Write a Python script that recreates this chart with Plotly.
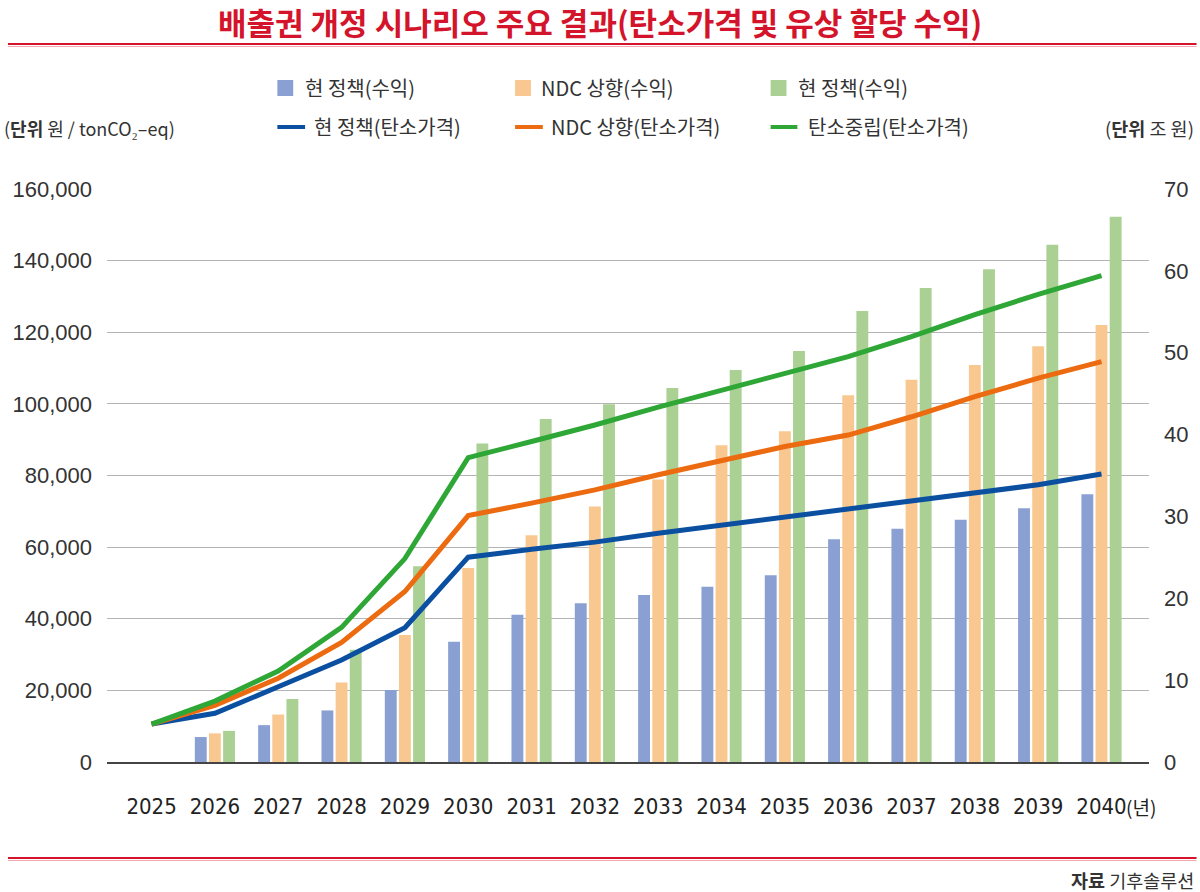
import plotly.graph_objects as go

# ---------------- data ----------------
years = list(range(2025, 2041))

# carbon price (원/tonCO2-eq), left axis
price_current = [10600, 13600, 21000, 28500, 37500, 57200, 59400, 61400, 63900, 66200,
                 68500, 70600, 72900, 75200, 77400, 80400]
price_ndc = [10600, 15800, 23400, 33400, 47600, 68800, 72300, 76000, 80200, 84100,
             88100, 91300, 96400, 102000, 107200, 111800]
price_neutral = [10600, 17000, 25400, 37600, 56800, 85000, 89500, 94100, 99100, 103900,
                 108600, 113200, 118800, 124900, 130600, 135800]

# auction revenue (조 원), right axis
rev_current = [None, 3.05, 4.5, 6.3, 8.8, 14.7, 18.0, 19.4, 20.4, 21.4,
               22.8, 27.2, 28.5, 29.6, 31.0, 32.7]
rev_ndc = [None, 3.5, 5.8, 9.7, 15.5, 23.7, 27.7, 31.2, 34.5, 38.7,
           40.4, 44.8, 46.7, 48.5, 50.8, 53.4]
rev_neutral = [None, 3.8, 7.7, 13.7, 23.9, 38.9, 41.9, 43.7, 45.7, 47.9,
               50.2, 55.1, 57.9, 60.2, 63.2, 66.6]

left_ticks = list(range(0, 160001, 20000))
right_ticks = list(range(0, 71, 10))

bar_names = ["현 정책(수익)", "NDC 상향(수익)", "현 정책(수익)"]
line_names = ["현 정책(탄소가격)", "NDC 상향(탄소가격)", "탄소중립(탄소가격)"]

title_text = "배출권 개정 시나리오 주요 결과(탄소가격 및 유상 할당 수익)"

# ---------------- style ----------------
BAR_COLORS = ["#8aa0d2", "#f9c891", "#aad193"]
LINE_COLORS = ["#0b4fa0", "#ec6a10", "#2ea736"]
RED = "#d3142b"
KFONT = "Noto Sans CJK KR"

W, H = 1200, 892
ML, MR, MT, MB = 100, 48, 189, 130
PW = W - ML - MR
PH = H - MT - MB


def px_x(px):
    return (px - ML) / PW


def px_y(py):
    return (H - MB - py) / PH


fig = go.Figure()

# bars: primary y axis (drawn on the right side, 조 원)
for name, vals, color in zip(bar_names, [rev_current, rev_ndc, rev_neutral], BAR_COLORS):
    fig.add_trace(go.Bar(x=years, y=vals, name=name, yaxis="y",
                         marker=dict(color=color, line=dict(width=0)),
                         showlegend=False))

# lines: overlaying axis (left side, 원/tonCO2-eq) so they sit above the bars
for name, vals, color in zip(line_names, [price_current, price_ndc, price_neutral], LINE_COLORS):
    fig.add_trace(go.Scatter(x=years, y=vals, name=name, yaxis="y2", mode="lines",
                             line=dict(color=color, width=5), showlegend=False))

num_font = dict(family="Liberation Sans, Arial, sans-serif", size=22, color="#333333")

fig.update_layout(
    width=W, height=H,
    margin=dict(l=ML, r=MR, t=MT, b=MB, pad=0),
    paper_bgcolor="white", plot_bgcolor="white",
    barmode="group", bargap=0.33, bargroupgap=0.16,
    showlegend=False,
    font=dict(family=KFONT, color="#333333"),
    xaxis=dict(range=[2024.296, 2040.75], tickvals=years,
               ticktext=[str(y) for y in years],
               showgrid=False, zeroline=False, showline=True,
               linecolor="#444444", linewidth=1.5, ticks="",
               tickfont=dict(family="DejaVu Sans Condensed, Liberation Sans, sans-serif",
                             size=22, color="#222222"),
               ticklabelstandoff=24),
    yaxis=dict(range=[0, 70], tickvals=right_ticks, side="right",
               showgrid=False, zeroline=False, showline=False, ticks="",
               tickfont=num_font, ticklabelstandoff=14),
    yaxis2=dict(range=[0, 160000], tickvals=left_ticks, tickformat=",",
                overlaying="y", side="left",
                showgrid=True, gridcolor="#b4b4b4", gridwidth=1,
                zeroline=False, showline=False, ticks="",
                tickfont=num_font, ticklabelstandoff=14),
)

ann = []
shapes = []

# title
ann.append(dict(text="<b>" + title_text + "</b>", xref="paper", yref="paper",
                x=px_x(598), y=px_y(22), xanchor="center", yanchor="middle",
                showarrow=False, font=dict(family=KFONT, size=31, color=RED)))

# red rules
for yy in (44, 858):
    shapes.append(dict(type="line", xref="paper", yref="paper", x0=px_x(0), x1=px_x(W),
                       y0=px_y(yy), y1=px_y(yy), line=dict(color=RED, width=2.2)))
    shapes.append(dict(type="line", xref="paper", yref="paper", x0=px_x(0), x1=px_x(W),
                       y0=px_y(yy + 2.5), y1=px_y(yy + 2.5), line=dict(color="#f2a9b0", width=1)))

# legend (manual layout: 2 rows x 3 cols)
row1, row2 = 88, 127
sq_x = [272, 512, 770]
tx1 = [298, 536, 796]
ln_x = [(272, 300), (512, 540), (770, 797)]
tx2 = [307, 546, 806]
for i in range(3):
    shapes.append(dict(type="rect", xref="paper", yref="paper",
                       x0=px_x(sq_x[i]), x1=px_x(sq_x[i] + 16),
                       y0=px_y(row1 - 8), y1=px_y(row1 + 8),
                       fillcolor=BAR_COLORS[i], line=dict(width=0)))
    ann.append(dict(text=bar_names[i], xref="paper", yref="paper", x=px_x(tx1[i]), y=px_y(row1),
                    xanchor="left", yanchor="middle", showarrow=False,
                    font=dict(family=KFONT, size=20, color="#333333")))
    shapes.append(dict(type="line", xref="paper", yref="paper",
                       x0=px_x(ln_x[i][0]), x1=px_x(ln_x[i][1]),
                       y0=px_y(row2), y1=px_y(row2),
                       line=dict(color=LINE_COLORS[i], width=4)))
    ann.append(dict(text=line_names[i], xref="paper", yref="paper", x=px_x(tx2[i]), y=px_y(row2),
                    xanchor="left", yanchor="middle", showarrow=False,
                    font=dict(family=KFONT, size=20, color="#333333")))

# unit labels
ann.append(dict(text="(<b>단위</b> 원 / tonCO₂–eq)", xref="paper", yref="paper",
                x=px_x(-6), y=px_y(128), xanchor="left", yanchor="middle", showarrow=False,
                font=dict(family=KFONT, size=18, color="#333333")))
ann.append(dict(text="(<b>단위</b> 조 원)", xref="paper", yref="paper",
                x=px_x(1199), y=px_y(128), xanchor="right", yanchor="middle", showarrow=False,
                font=dict(family=KFONT, size=18.5, color="#333333")))

# year unit suffix after last tick
ann.append(dict(text="(년)", xref="x", yref="paper", x=years[-1] + 0.36, y=px_y(806),
                xanchor="left", yanchor="middle", showarrow=False,
                font=dict(family=KFONT, size=19, color="#222222")))

# source
ann.append(dict(text="<b>자료</b> 기후솔루션", xref="paper", yref="paper",
                x=px_x(1199), y=px_y(880), xanchor="right", yanchor="middle", showarrow=False,
                font=dict(family=KFONT, size=18.5, color="#333333")))

fig.update_layout(annotations=ann, shapes=shapes)

fig.write_html("out.html", config={"displayModeBar": False},
               post_script="document.body.style.margin='0';document.body.style.padding='0';")
